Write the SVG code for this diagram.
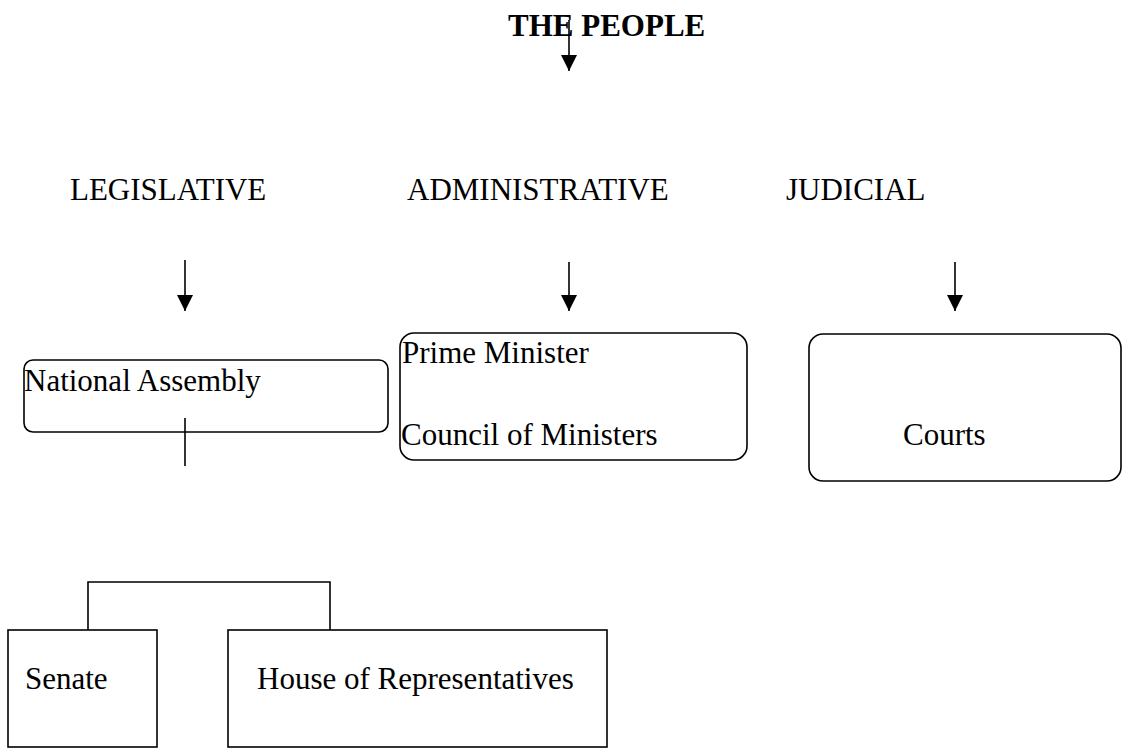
<svg xmlns="http://www.w3.org/2000/svg" width="1123" height="749" viewBox="0 0 1123 749">
<style>
text{font-family:"Liberation Serif","Times New Roman",serif;font-size:31px;fill:#000}
.b{font-weight:bold}
.box{fill:none;stroke:#000;stroke-width:1.6}
.ln{fill:none;stroke:#000;stroke-width:1.6}
</style>
<defs>
<marker id="ah" markerWidth="16" markerHeight="16" viewBox="0 0 16 16" refX="16" refY="8" orient="auto" markerUnits="userSpaceOnUse">
<path d="M0,0 L16,8 L0,16 Z" fill="#000"/>
</marker>
</defs>
<rect width="1123" height="749" fill="#fff"/>
<g id="people"><text class="b" x="508" y="36">THE PEOPLE</text></g>
<g id="legislative"><text x="70" y="200">LEGISLATIVE</text></g>
<g id="administrative"><text x="407" y="200">ADMINISTRATIVE</text></g>
<g id="judicial"><text x="786" y="200">JUDICIAL</text></g>
<g id="national-assembly"><rect class="box" x="24" y="360" width="364" height="72" rx="9"/><text x="24" y="391">National Assembly</text></g>
<g id="executive"><rect class="box" x="400" y="333" width="347" height="127" rx="14"/><text x="402" y="363">Prime Minister</text><text x="401" y="445">Council of Ministers</text></g>
<g id="courts"><rect class="box" x="809" y="334" width="312" height="147" rx="14"/><text x="903" y="445">Courts</text></g>
<g id="senate"><rect class="box" x="8" y="630" width="149" height="117"/><text x="25" y="689">Senate</text></g>
<g id="house"><rect class="box" x="228" y="630" width="379" height="117"/><text x="257" y="689">House of Representatives</text></g>
<g id="connectors">
<line class="ln" x1="569" y1="20" x2="569" y2="71" marker-end="url(#ah)"/>
<line class="ln" x1="185" y1="260" x2="185" y2="311" marker-end="url(#ah)"/>
<line class="ln" x1="569" y1="262" x2="569" y2="311" marker-end="url(#ah)"/>
<line class="ln" x1="955" y1="262" x2="955" y2="311" marker-end="url(#ah)"/>
<line class="ln" x1="185" y1="418" x2="185" y2="466"/>
<polyline class="ln" points="88,630 88,582 330,582 330,630"/>
</g>
</svg>
